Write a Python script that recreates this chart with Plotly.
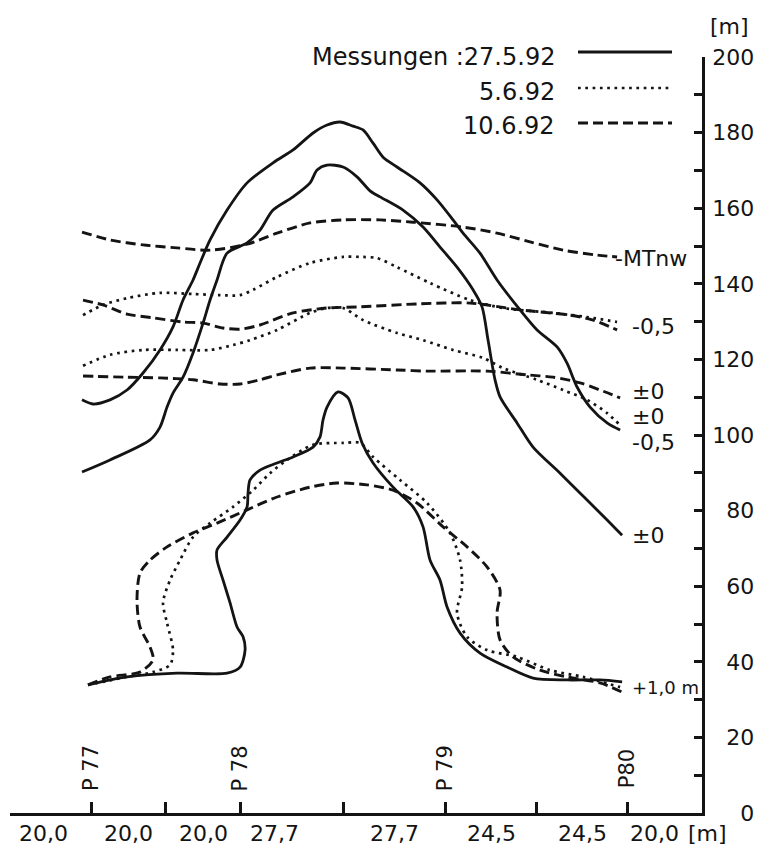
import plotly.graph_objects as go

# ---------------- data ----------------
segment_lengths = [20.0, 20.0, 20.0, 27.7, 27.7, 24.5, 24.5, 20.0]   # x-axis segment labels [m]
profile_names = ["P 77", "P 78", "P 79", "P80"]
profile_tick_index = [0, 2, 4, 6]          # which cumulative tick each profile sits on
y_ticks = list(range(0, 201, 10))

legend_labels = ["Messungen :27.5.92", "5.6.92", "10.6.92"]

# 27.5.92 (solid)
s_outer_x = [17.40, 20.36, 24.94, 29.52, 33.83, 38.41, 41.91, 44.61, 47.30, 49.19, 51.89, 56.47, 61.86,
             68.85, 74.24, 79.63, 83.40, 86.90, 90.40, 93.10, 95.80, 98.49, 102.26, 108.45, 113.03, 117.34,
             120.04, 124.61, 129.19, 135.39, 139.97, 145.36, 148.05, 150.75, 154.25, 158.84, 162.34]
s_outer_y = [109.3, 108.2, 109.3, 111.9, 116.4, 122.5, 128.6, 135.7, 141.0, 145.5, 151.6, 159.5, 166.7,
             172.0, 175.4, 179.9, 182.0, 182.8, 181.7, 180.7, 177.2, 173.5, 170.9, 166.7, 162.2, 156.9,
             153.4, 148.1, 141.0, 133.1, 127.8, 123.3, 119.0, 112.7, 107.4, 103.2, 101.3]

s_inner_x = [17.40, 24.94, 35.72, 38.41, 40.30, 41.91, 44.61, 47.30, 50.00, 51.89, 53.77, 56.47, 61.86,
             65.35, 68.85, 74.24, 78.82, 80.71, 83.40, 87.71, 91.48, 94.99, 97.68, 103.87, 109.26, 113.84,
             118.42, 122.73, 125.15, 126.77, 128.65, 130.00, 134.58, 138.89, 146.17, 153.44, 158.84, 162.88]
s_inner_y = [90.2, 93.4, 98.7, 102.1, 107.4, 111.1, 115.3, 121.7, 129.6, 135.7, 141.0, 148.1, 150.8,
             154.2, 159.5, 163.0, 166.7, 170.1, 171.4, 170.9, 168.3, 164.6, 163.0, 159.5, 155.0, 149.7,
             144.4, 138.4, 133.9, 125.1, 114.6, 110.1, 103.2, 96.8, 89.9, 82.8, 77.5, 73.5]

s_bump_x = [19.01, 29.52, 42.99, 56.47, 59.97, 61.32, 60.78, 59.16, 57.28, 55.39, 53.77, 53.77, 56.47,
            59.97, 61.86, 62.12, 62.66, 65.35, 69.93, 74.24, 79.63, 81.51, 82.32, 83.40, 86.36, 89.06,
            90.94, 92.83, 95.80, 101.18, 106.57, 109.26, 111.15, 113.84, 115.73, 119.23, 124.61, 131.89,
            138.89, 148.05, 156.95, 162.88]
s_bump_y = [33.9, 36.0, 37.0, 37.0, 38.6, 43.1, 46.6, 49.2, 55.6, 61.6, 66.9, 69.6, 73.0,
            77.5, 81.0, 84.7, 88.1, 90.7, 92.6, 94.2, 96.8, 99.5, 104.0, 107.4, 111.4, 109.8,
            104.0, 97.9, 92.6, 86.2, 81.0, 75.7, 66.9, 61.6, 54.5, 47.6, 42.3, 38.6,
            35.7, 35.2, 35.2, 34.7]

# 5.6.92 (dotted)
d_upper_x = [17.67, 23.05, 29.52, 38.41, 47.30, 54.58, 59.97, 63.47, 69.93, 78.82, 87.71, 93.10, 96.87,
             102.26, 111.15, 121.92, 130.81, 144.28, 153.44, 161.53]
d_upper_y = [131.7, 134.4, 136.2, 137.6, 137.3, 137.0, 137.0, 138.4, 141.8, 145.5, 147.1, 147.1, 146.8,
             144.4, 140.2, 135.7, 133.6, 132.3, 131.2, 129.9]

d_lower_x = [17.67, 24.94, 33.83, 42.99, 51.89, 58.09, 62.66, 69.93, 78.82, 83.40, 87.71, 93.10, 102.26,
             109.26, 117.34, 125.42, 130.81, 139.97, 146.98, 153.44, 158.84, 162.34]
d_lower_y = [118.3, 121.2, 122.5, 122.5, 122.5, 123.8, 125.1, 127.8, 132.3, 133.6, 133.6, 130.4, 127.0,
             125.1, 122.5, 120.4, 117.7, 114.6, 111.9, 109.3, 105.8, 102.6]

d_bump_x = [19.01, 29.52, 36.53, 41.11, 41.91, 40.30, 39.22, 41.11, 43.80, 47.30, 51.89, 58.09, 63.47,
            68.05, 72.62, 79.63, 87.71, 92.29, 95.80, 103.06, 110.34, 116.53, 119.23, 119.77, 118.42,
            121.12, 126.50, 134.58, 143.47, 152.37, 162.34]
d_bump_y = [33.9, 36.0, 37.3, 39.2, 43.1, 50.3, 55.6, 61.6, 66.9, 73.0, 76.7, 81.0, 85.4,
            89.9, 93.4, 97.4, 97.9, 97.9, 94.2, 88.1, 82.0, 74.1, 66.9, 59.8, 52.9,
            46.6, 43.1, 41.3, 37.8, 36.0, 33.3]

# 10.6.92 (dashed)
k_top_x = [17.40, 24.94, 33.83, 42.99, 51.89, 61.86, 69.93, 78.82, 87.71, 97.68, 106.57, 120.04, 129.19,
           138.09, 146.98, 156.14, 161.53]
k_top_y = [153.7, 151.6, 150.3, 149.5, 148.9, 150.5, 153.4, 156.1, 156.9, 156.9, 156.3, 155.0, 153.4,
           151.1, 148.9, 147.6, 147.1]

k_mid_x = [17.67, 23.05, 29.52, 36.53, 44.61, 50.00, 55.39, 59.97, 65.35, 74.24, 83.40, 92.29, 108.45,
           121.92, 135.39, 148.86, 155.06, 161.53]
k_mid_y = [135.7, 134.4, 132.0, 131.0, 129.9, 129.6, 128.3, 128.0, 129.1, 132.3, 133.6, 133.9, 134.7,
           134.9, 133.1, 131.7, 130.4, 127.8]

k_low_x = [17.67, 29.52, 38.41, 47.30, 54.58, 59.97, 65.35, 69.93, 78.82, 87.71, 102.26, 110.34, 126.50,
           137.28, 144.28, 151.56, 156.95, 162.34]
k_low_y = [115.6, 115.3, 115.1, 114.6, 113.5, 113.5, 114.6, 115.9, 117.7, 117.7, 117.2, 116.9, 116.9,
           115.9, 115.3, 113.8, 111.9, 109.8]

k_bump_x = [19.01, 24.94, 33.02, 36.53, 35.72, 33.02, 32.21, 33.02, 35.72, 40.30, 47.30, 53.77, 61.86,
            69.93, 78.82, 86.09, 94.18, 101.18, 107.64, 114.65, 121.12, 126.50, 130.00, 129.19, 130.00,
            133.50, 140.78, 148.05, 156.95, 162.88]
k_bump_y = [33.9, 36.0, 37.3, 40.5, 43.9, 49.2, 56.3, 63.5, 66.9, 70.4, 74.1, 76.7, 80.2,
            83.6, 86.2, 87.3, 86.8, 85.4, 82.0, 75.7, 70.4, 65.1, 59.0, 52.9, 45.8,
            41.3, 37.8, 36.0, 34.4, 32.0]

# contour labels at the right-hand ends: (text, x, y)
contour_labels = [("-MTnw", 160.3, 146.8), ("-0,5", 165.0, 128.6), ("±0", 165.0, 111.4),
                  ("±0", 165.0, 104.8), ("-0,5", 165.0, 97.9), ("±0", 165.0, 73.3)]
bottom_label = ("+1,0 m", 165.0, 33.1)

# ---------------- styling ----------------
# the page body has an 8px margin, so the figure is drawn 8px in from the window corner
OFF = 8
W, H = 763 - OFF, 854 - OFF
ML, MT = 10 - OFF, 57 - OFF
PW, PH = 692, 756
MR, MB = W - ML - PW, H - MT - PH
INK = "#141414"
FONT = "DejaVu Sans, Liberation Sans, sans-serif"
SOLID = dict(color=INK, width=2.8)
DOTTED = dict(color=INK, width=2.7, dash="2.7px,4.6px")
DASHED = dict(color=INK, width=2.9, dash="10px,5px")
seg_label_xshift = [-11, 0, 0, -17, 0, 0, 0, 0]   # hand-lettered offsets of the segment labels (px)


def pxx(px):
    """window pixel x -> paper x"""
    return (px - OFF - ML) / PW


def pyy(py):
    """window pixel y -> paper y"""
    return (MT + PH - (py - OFF)) / PH


fig = go.Figure()
series = [
    (s_outer_x, s_outer_y, SOLID), (s_inner_x, s_inner_y, SOLID), (s_bump_x, s_bump_y, SOLID),
    (d_upper_x, d_upper_y, DOTTED), (d_lower_x, d_lower_y, DOTTED), (d_bump_x, d_bump_y, DOTTED),
    (k_top_x, k_top_y, DASHED), (k_mid_x, k_mid_y, DASHED), (k_low_x, k_low_y, DASHED),
    (k_bump_x, k_bump_y, DASHED),
]
for xs, ys, ln in series:
    fig.add_trace(go.Scatter(x=xs, y=ys, mode="lines", line=dict(shape="spline", smoothing=0.8, **ln),
                             hoverinfo="skip", showlegend=False))

# cumulative tick positions from segment lengths
tick_pos = []
acc = 0.0
for s in segment_lengths[:-1]:
    acc += s
    tick_pos.append(round(acc, 2))
x_end = round(acc + segment_lengths[-1], 2)

annotations = []
TF = dict(size=22, color=INK, family=FONT)
# segment length labels under x axis
start = 0.0
n = len(segment_lengths)
for i, s in enumerate(segment_lengths):
    txt = f"{s:.1f}".replace(".", ",")
    if i < n - 1:
        annotations.append(dict(x=start + s / 2, y=0, xref="x", yref="paper", text=txt, showarrow=False,
                                xanchor="center", xshift=seg_label_xshift[i], yanchor="top", yshift=-6,
                                font=TF))
    else:
        annotations.append(dict(x=x_end, y=0, xref="x", yref="paper", text=txt, showarrow=False,
                                xanchor="right", xshift=-21, yanchor="top", yshift=-6, font=TF))
    start += s
annotations.append(dict(x=x_end, y=0, xref="x", yref="paper", text="[m]", showarrow=False,
                        xanchor="left", xshift=-16, yanchor="top", yshift=-6, font=TF))

# profile labels
for name, idx in zip(profile_names, profile_tick_index):
    annotations.append(dict(x=tick_pos[idx], y=11.8, xref="x", yref="y", text=name, textangle=-90,
                            showarrow=False, xanchor="center", yanchor="middle",
                            font=dict(size=21, color=INK, family=FONT)))

# contour labels
for txt, x, y in contour_labels:
    annotations.append(dict(x=x, y=y, xref="x", yref="y", text=txt, showarrow=False, xanchor="left",
                            yanchor="middle", font=TF))
annotations.append(dict(x=bottom_label[1], y=bottom_label[2], xref="x", yref="y", text=bottom_label[0],
                        showarrow=False, xanchor="left", yanchor="middle",
                        font=dict(size=18, color=INK, family=FONT)))

# unit label on y axis
annotations.append(dict(x=pxx(729), y=pyy(27), xref="paper", yref="paper", text="[m]", showarrow=False,
                        xanchor="center", yanchor="middle", font=TF))

# legend
legend_text_y = [57, 92, 126]
legend_line_y = [52, 88, 123]
styles = [SOLID, DOTTED, DASHED]
shapes = []
for lbl, ty, ly, st in zip(legend_labels, legend_text_y, legend_line_y, styles):
    annotations.append(dict(x=pxx(557), y=pyy(ty), xref="paper", yref="paper", text=lbl, showarrow=False,
                            xanchor="right", yanchor="middle", font=dict(size=24, color=INK, family=FONT)))
    shapes.append(dict(type="line", xref="paper", yref="paper", x0=pxx(578), x1=pxx(672),
                       y0=pyy(ly), y1=pyy(ly), line=st))

# right-aligned tick labels (padded with figure spaces, which are digit-wide)
y_text = [str(v).rjust(3, "\u2007") if v % 20 == 0 else "" for v in y_ticks]

fig.update_layout(
    width=W, height=H, margin=dict(l=ML, r=MR, t=MT, b=MB, pad=0),
    paper_bgcolor="white", plot_bgcolor="white", showlegend=False,
    font=dict(family=FONT, color=INK),
    xaxis=dict(range=[-2.0, x_end], showline=True, linecolor=INK, linewidth=2.5, ticks="inside",
               tickvals=tick_pos, ticklen=11, tickwidth=2.5, tickcolor=INK, showticklabels=False,
               showgrid=False, zeroline=False, fixedrange=True),
    yaxis=dict(range=[0, 200], side="right", showline=True, linecolor=INK, linewidth=2.5, ticks="inside",
               tickvals=y_ticks, ticktext=y_text, ticklen=8, tickwidth=2.5, tickcolor=INK,
               tickfont=TF, ticklabelstandoff=3,
               showgrid=False, zeroline=False, fixedrange=True),
    annotations=annotations, shapes=shapes,
)

fig.write_html("out.html")
